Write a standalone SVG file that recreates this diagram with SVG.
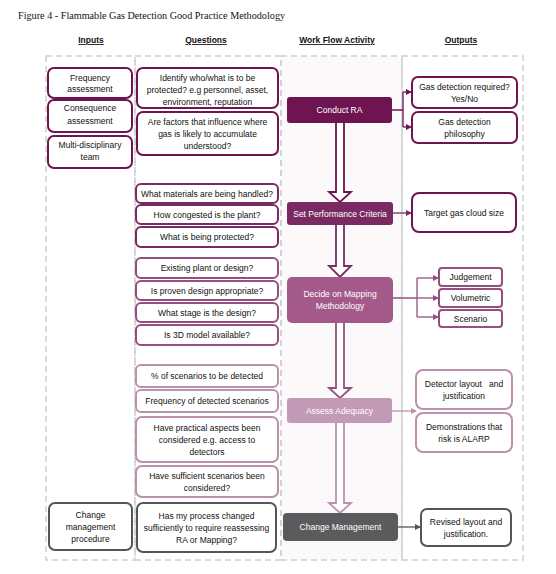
<svg xmlns="http://www.w3.org/2000/svg" width="556" height="574" viewBox="0 0 556 574">
<style>
.title{font-family:"Liberation Serif",serif;font-size:10.2px;fill:#111}
.hdr{font-family:"Liberation Sans",Arial,sans-serif;font-size:8.5px;font-weight:bold;fill:#111;text-decoration:underline}
.t{font-family:"Liberation Sans",Arial,sans-serif;font-size:8.5px;fill:#111;text-anchor:middle}
.w{font-family:"Liberation Sans",Arial,sans-serif;font-size:8.5px;fill:#fff;text-anchor:middle}
.col{fill:none;stroke:#cfcfcf;stroke-width:1.5;stroke-dasharray:6 4}
.box{fill:#fff;stroke-width:2}
.c1{stroke:#6e1551}
.c2{stroke:#7a2a62}
.c3{stroke:#93507f}
.c4{stroke:#bb91ad}
.c5{stroke:#555}
.ln{fill:none;stroke-width:1.3}
.blk{fill:#fff;stroke-width:1.8}
</style>
<defs>
<marker id="a1" markerWidth="6" markerHeight="6" refX="5" refY="3" orient="auto" markerUnits="userSpaceOnUse"><path d="M0,0 L6,3 L0,6 z" fill="#6e1551"/></marker>
<marker id="a2" markerWidth="6" markerHeight="6" refX="5" refY="3" orient="auto" markerUnits="userSpaceOnUse"><path d="M0,0 L6,3 L0,6 z" fill="#7a2a62"/></marker>
<marker id="a3" markerWidth="6" markerHeight="6" refX="5" refY="3" orient="auto" markerUnits="userSpaceOnUse"><path d="M0,0 L6,3 L0,6 z" fill="#93507f"/></marker>
<marker id="a4" markerWidth="6" markerHeight="6" refX="5" refY="3" orient="auto" markerUnits="userSpaceOnUse"><path d="M0,0 L6,3 L0,6 z" fill="#bb91ad"/></marker>
<marker id="a5" markerWidth="6" markerHeight="6" refX="5" refY="3" orient="auto" markerUnits="userSpaceOnUse"><path d="M0,0 L6,3 L0,6 z" fill="#555"/></marker>
</defs>
<rect width="556" height="574" fill="#fff"/>
<text class="title" x="18" y="19">Figure 4 - Flammable Gas Detection Good Practice Methodology</text>
<g id="headers">
<text class="hdr" x="91" y="43" text-anchor="middle">Inputs</text>
<text class="hdr" x="206" y="43" text-anchor="middle">Questions</text>
<text class="hdr" x="337" y="43" text-anchor="middle">Work Flow Activity</text>
<text class="hdr" x="461" y="43" text-anchor="middle">Outputs</text>
</g>
<g id="columns">
<rect x="281" y="56" width="121" height="504" fill="#fcf9fb"/>
<rect class="col" x="46" y="56" width="89" height="504"/>
<rect class="col" x="135" y="56" width="146" height="504"/>
<rect class="col" x="281" y="56" width="121" height="504"/>
<rect class="col" x="402" y="56" width="121" height="504"/>
</g>
<g id="connectors">
<path class="ln c1" d="M392,110 H403 M403,92 V127"/>
<path class="ln c1" d="M403,92 H411" marker-end="url(#a1)"/>
<path class="ln c1" d="M403,127 H411" marker-end="url(#a1)"/>
<path class="ln c2" d="M393,213 H411" marker-end="url(#a2)"/>
<path class="ln c3" d="M393,298 H417 M417,278 V317"/>
<path class="ln c3" d="M417,278 H438" marker-end="url(#a3)"/>
<path class="ln c3" d="M417,298 H438" marker-end="url(#a3)"/>
<path class="ln c3" d="M417,317 H438" marker-end="url(#a3)"/>
<path class="ln c4" d="M392,411 H416" marker-end="url(#a4)"/>
<path class="ln c5" d="M398,527 H420" marker-end="url(#a5)"/>
<path class="blk c1" d="M336,123 V192 H329 L340,202 L351,192 H344 V123"/>
<path class="blk c2" d="M336,225 V266 H329 L340,277 L351,266 H344 V225"/>
<path class="blk c3" d="M336,323 V388 H329 L340,398 L351,388 H344 V323"/>
<path class="blk c4" d="M336,423 V503 H329 L340,513 L351,503 H344 V423"/>
</g>
<g id="in-frequency"><rect class="box c1" x="48" y="68" width="84" height="30" rx="6"/><text class="t" x="90" y="81">Frequency</text><text class="t" x="90" y="92">assessment</text></g>
<g id="in-consequence"><rect class="box c1" x="48" y="100" width="84" height="32" rx="6"/><text class="t" x="90" y="111">Consequence</text><text class="t" x="90" y="124">assessment</text></g>
<g id="in-team"><rect class="box c1" x="48" y="136" width="84" height="32" rx="6"/><text class="t" x="90" y="148">Multi-disciplinary</text><text class="t" x="90" y="160">team</text></g>
<g id="in-change"><rect class="box c5" x="49" y="503" width="83" height="47" rx="6"/><text class="t" x="90.5" y="517.5">Change</text><text class="t" x="90.5" y="529.5">management</text><text class="t" x="90.5" y="541.5">procedure</text></g>

<g id="q-identify"><rect class="box c1" x="137" y="68" width="141" height="40" rx="6"/><text class="t" x="207.5" y="81">Identify who/what is to be</text><text class="t" x="207.5" y="93">protected? e.g personnel, asset,</text><text class="t" x="207.5" y="105">environment, reputation</text></g>
<g id="q-factors"><rect class="box c1" x="137" y="112" width="141" height="43" rx="6"/><text class="t" x="207.5" y="124.5">Are factors that influence where</text><text class="t" x="207.5" y="136.5">gas is likely to accumulate</text><text class="t" x="207.5" y="148.5">understood?</text></g>
<g id="q-materials"><rect class="box c2" x="136" y="184" width="142" height="19" rx="5"/><text class="t" x="207" y="196.5">What materials are being handled?</text></g>
<g id="q-congested"><rect class="box c2" x="136" y="205" width="142" height="19" rx="5"/><text class="t" x="207" y="217.5">How congested is the plant?</text></g>
<g id="q-protected"><rect class="box c2" x="136" y="227" width="142" height="20" rx="5"/><text class="t" x="207" y="240">What is being protected?</text></g>
<g id="q-existing"><rect class="box c3" x="136" y="258" width="142" height="20" rx="5"/><text class="t" x="207" y="271">Existing plant or design?</text></g>
<g id="q-proven"><rect class="box c3" x="136" y="281" width="142" height="19" rx="5"/><text class="t" x="207" y="293.5">Is proven design appropriate?</text></g>
<g id="q-stage"><rect class="box c3" x="136" y="303" width="142" height="19" rx="5"/><text class="t" x="207" y="315.5">What stage is the design?</text></g>
<g id="q-3d"><rect class="box c3" x="136" y="325" width="142" height="20" rx="5"/><text class="t" x="207" y="338">Is 3D model available?</text></g>
<g id="q-percent"><rect class="box c4" x="136" y="365" width="142" height="22" rx="5"/><text class="t" x="207" y="379">% of scenarios to be detected</text></g>
<g id="q-frequency"><rect class="box c4" x="136" y="390" width="142" height="22" rx="5"/><text class="t" x="207" y="404">Frequency of detected scenarios</text></g>
<g id="q-practical"><rect class="box c4" x="136" y="417" width="142" height="45" rx="6"/><text class="t" x="207" y="430.5">Have practical aspects been</text><text class="t" x="207" y="442.5">considered e.g. access to</text><text class="t" x="207" y="454.5">detectors</text></g>
<g id="q-sufficient"><rect class="box c4" x="136" y="466" width="142" height="31" rx="6"/><text class="t" x="207" y="478.5">Have sufficient scenarios been</text><text class="t" x="207" y="490.5">considered?</text></g>
<g id="q-process"><rect class="box c5" x="137" y="503" width="139" height="49" rx="6"/><text class="t" x="206.5" y="518.5">Has my process changed</text><text class="t" x="206.5" y="530.5">sufficiently to require reassessing</text><text class="t" x="206.5" y="542.5">RA or Mapping?</text></g>

<g id="wf-ra"><rect x="287" y="97" width="105" height="26" rx="3" fill="#6e1551"/><text class="w" x="339.5" y="113">Conduct RA</text></g>
<g id="wf-perf"><rect x="287" y="202" width="106" height="23" rx="3" fill="#7a2a62"/><text class="w" x="340" y="216.5">Set Performance Criteria</text></g>
<g id="wf-map"><rect x="287" y="277" width="106" height="46" rx="5" fill="#a35a8a"/><text class="w" x="340" y="297">Decide on Mapping</text><text class="w" x="340" y="309">Methodology</text></g>
<g id="wf-assess"><rect x="287" y="398" width="105" height="25" rx="3" fill="#c29ab5"/><text class="w" x="339.5" y="413.5">Assess Adequacy</text></g>
<g id="wf-change"><rect x="283" y="513" width="115" height="28" rx="4" fill="#5a5b5d"/><text class="w" x="340.5" y="530">Change Management</text></g>

<g id="out-required"><rect class="box c1" x="412" y="77" width="105" height="31" rx="6"/><text class="t" x="464.5" y="89.5">Gas detection required?</text><text class="t" x="464.5" y="101.5">Yes/No</text></g>
<g id="out-philosophy"><rect class="box c1" x="412" y="112" width="105" height="31" rx="6"/><text class="t" x="464.5" y="124.5">Gas detection</text><text class="t" x="464.5" y="136.5">philosophy</text></g>
<g id="out-target"><rect class="box c1" x="412" y="193" width="104" height="39" rx="7"/><text class="t" x="464" y="215.5">Target gas cloud size</text></g>
<g id="out-judgement"><rect class="box c3" x="439" y="268" width="63" height="18" rx="3"/><text class="t" x="470.5" y="280">Judgement</text></g>
<g id="out-volumetric"><rect class="box c3" x="439" y="289" width="63" height="18" rx="3"/><text class="t" x="470.5" y="301">Volumetric</text></g>
<g id="out-scenario"><rect class="box c3" x="439" y="310" width="63" height="17" rx="3"/><text class="t" x="470.5" y="321.5">Scenario</text></g>
<g id="out-layout"><rect class="box c4" x="416" y="370" width="96" height="39" rx="7"/><text class="t" x="464" y="386.5" xml:space="preserve">Detector layout   and</text><text class="t" x="464" y="398.5">justification</text></g>
<g id="out-alarp"><rect class="box c4" x="416" y="413" width="96" height="39" rx="7"/><text class="t" x="464" y="429.5">Demonstrations that</text><text class="t" x="464" y="441.5">risk is ALARP</text></g>
<g id="out-revised"><rect class="box c5" x="421" y="509" width="90" height="37" rx="6"/><text class="t" x="466" y="524.5">Revised layout and</text><text class="t" x="466" y="536.5">justification.</text></g>
</svg>
